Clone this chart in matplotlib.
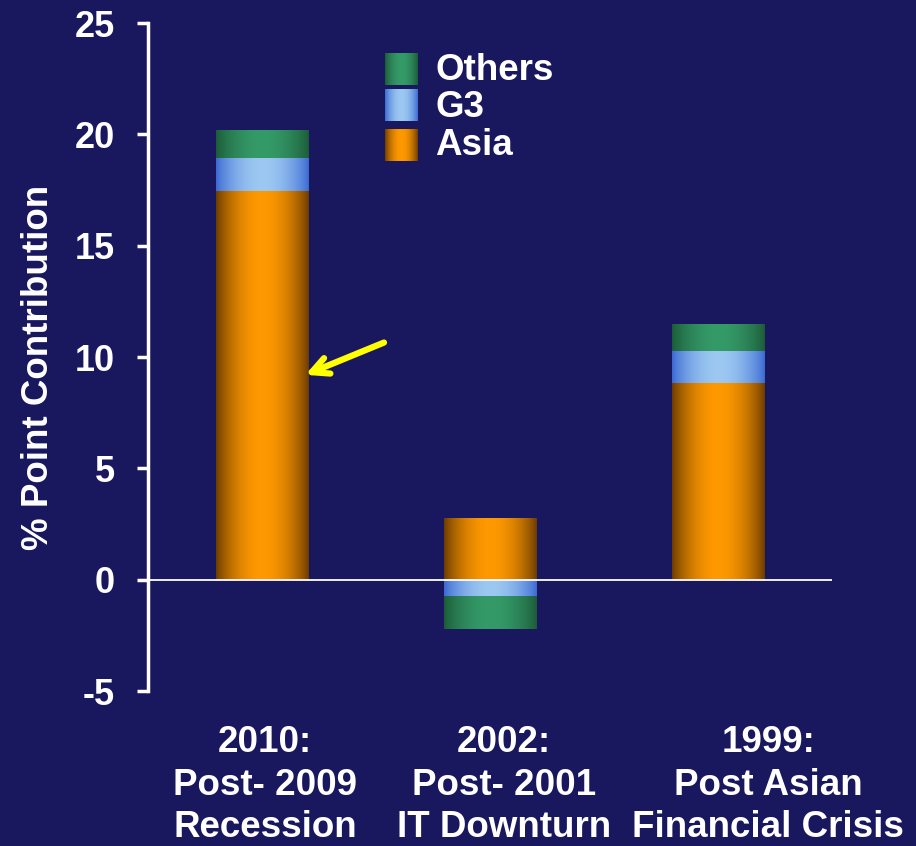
import numpy as np
import matplotlib
matplotlib.use("Agg")
import matplotlib.pyplot as plt
from matplotlib.colors import to_rgb
from matplotlib.transforms import ScaledTranslation

# contributions to growth, percentage points
periods = ["2010:\nPost- 2009\nRecession",
           "2002:\nPost- 2001\nIT Downturn",
           "1999:\nPost Asian\nFinancial Crisis"]
asia = [17.45, 2.78, 8.85]
g3 = [1.5, -0.76, 1.43]
others = [1.25, -1.44, 1.21]

series = [("Asia", asia), ("G3", g3), ("Others", others)]
# edge colour, centre colour for the cylinder shading
shades = {
    "Asia": ("#6a3b00", "#ff9900"),
    "G3": ("#3a68d2", "#9cc8f2"),
    "Others": ("#1c5a38", "#349a68"),
}
bg = "#19175e"

plt.rcParams["font.family"] = ["Liberation Sans", "DejaVu Sans"]
plt.rcParams["font.weight"] = "bold"
plt.rcParams["axes.labelweight"] = "bold"
plt.rcParams["axes.unicode_minus"] = False


def gradient(name, n=200):
    edge, centre = np.array(to_rgb(shades[name][0])), np.array(to_rgb(shades[name][1]))
    x = np.linspace(0, 1, n)
    t = np.sin(np.pi * x) ** 0.8
    img = edge[None, :] + (centre - edge)[None, :] * t[:, None]
    return img[None, :, :]


fig = plt.figure(figsize=(9.16, 8.46), dpi=100, facecolor=bg)
ax = fig.add_axes([0.1616, 0.1832, 0.7467, 0.7896], facecolor=bg)

x = np.arange(len(periods))
width = 0.405
pos_base = np.zeros(len(periods))
neg_base = np.zeros(len(periods))
for name, vals in series:
    vals = np.array(vals)
    bottoms = np.where(vals >= 0, pos_base, neg_base)
    bars = ax.bar(x, vals, width, bottom=bottoms, color="none", edgecolor="none")
    for b in bars:
        x0, y0 = b.get_x(), b.get_y()
        x1, y1 = x0 + b.get_width(), y0 + b.get_height()
        ax.imshow(gradient(name), extent=[x0, x1, min(y0, y1), max(y0, y1)],
                  aspect="auto", interpolation="bilinear", zorder=2)
    pos_base += np.where(vals >= 0, vals, 0)
    neg_base += np.where(vals < 0, vals, 0)

ax.axhline(0, color="white", lw=1.3, zorder=3)

ax.set_xlim(-0.5, 2.5)
ax.set_ylim(-5, 25)
ax.set_yticks(range(-5, 26, 5))
ax.set_xticks(x)
ax.set_xticklabels([])

# category labels sit under the axis, nudged a little right of their bars
for xi, label, dx in zip(x, periods, [3, 14, 50]):
    tr = ax.get_xaxis_transform() + ScaledTranslation(dx / 100, -0.34, fig.dpi_scale_trans)
    ax.text(xi, 0, label, transform=tr, ha="center", va="top", color="white",
            fontsize=26.5, linespacing=1.28, multialignment="center")

for s in ["top", "right", "bottom"]:
    ax.spines[s].set_visible(False)
ax.spines["left"].set_color("white")
ax.spines["left"].set_linewidth(2.5)
ax.tick_params(axis="y", colors="white", labelsize=26, length=8, width=2.5, pad=16)
ax.tick_params(axis="x", length=0)
ax.set_ylabel("% Point Contribution", color="white", fontsize=26.5)
ax.yaxis.set_label_coords(-0.134, 0.485)

# arrow pointing at the 2010 Asia bar
ax.annotate("", xy=(0.19, 9.2), xytext=(0.535, 10.65),
            arrowprops=dict(arrowstyle="->", color="#ffff00", lw=4.5,
                            mutation_scale=30, shrinkA=0, shrinkB=0))

# legend swatches with the same shading
legend_rows = [("Others", 0.8995, 0.917), ("G3", 0.857, 0.8733), ("Asia", 0.8097, 0.8275)]
for name, yb, yt in legend_rows:
    sw = fig.add_axes([0.4203, yb, 0.036, 0.038])
    sw.imshow(gradient(name), aspect="auto", interpolation="bilinear")
    sw.axis("off")
    fig.text(0.4749, yt, name, color="white", fontsize=26.5, va="center", ha="left")

fig.savefig("out.png", dpi=100, facecolor=bg)
